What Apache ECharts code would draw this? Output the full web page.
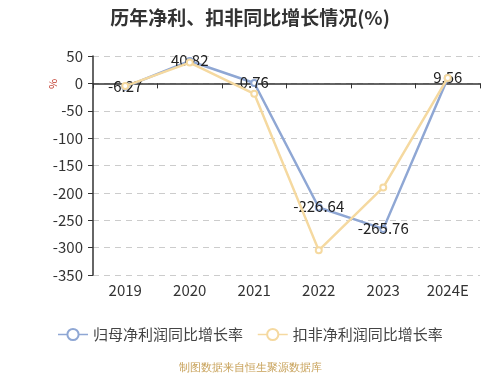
<!DOCTYPE html>
<html><head><meta charset="utf-8">
<script src="https://cdn.jsdelivr.net/npm/echarts@6/dist/echarts.min.js"></script>
<style>html,body{margin:0;padding:0;background:#fff}#c{width:500px;height:375px}</style>
</head><body><div id="c"></div>
<script>
var categories = ['2019','2020','2021','2022','2023','2024E'];
var netProfitGrowth = [-6.27, 40.82, 0.76, -226.64, -265.76, 9.56];
var deductedGrowth = [-5, 38, -19, -305, -190, 10];
var seriesNames = ['归母净利润同比增长率','扣非净利润同比增长率'];
var yTicks = {min: -350, max: 50, interval: 50};

var chart = echarts.init(document.getElementById('c'));
var font = '"Microsoft YaHei","Noto Sans CJK SC",sans-serif';
chart.setOption({
  animation: false,
  textStyle: {fontFamily: font},
  title: {
    text: '历年净利、扣非同比增长情况(%)',
    left: 'center', top: 3,
    textStyle: {fontSize: 19, fontWeight: 'bold', color: '#333', fontFamily: font}
  },
  legend: {
    bottom: 28, left: 'center',
    itemWidth: 30, itemHeight: 14, itemGap: 14,
    lineStyle: {width: 1.5},
    itemStyle: {borderWidth: 1.2},
    textStyle: {fontSize: 15, color: '#444'},
    data: seriesNames
  },
  graphic: [{
    type: 'text', left: 'center', bottom: 2,
    style: {text: '制图数据来自恒生聚源数据库', fontSize: 11, fill: '#c8a25a', font: '11px ' + font}
  }, {
    type: 'text', x: 47, y: 89, rotation: Math.PI / 2,
    style: {text: '%', fill: '#c0392b', font: '11px ' + font}
  }],
  grid: {left: 93, right: 20, top: 56, bottom: 100},
  xAxis: [{
    type: 'category', data: categories, position: 'bottom',
    axisLine: {onZero: true, lineStyle: {color: '#333', width: 1.5}},
    axisTick: {show: true, lineStyle: {color: '#333'}},
    axisLabel: {show: false},
    splitLine: {show: false}
  }, {
    type: 'category', data: categories, position: 'bottom',
    axisLine: {show: false, onZero: false},
    axisTick: {show: false},
    axisLabel: {fontSize: 15, color: '#333', margin: 8},
    splitLine: {show: false}
  }],
  yAxis: {
    type: 'value', min: yTicks.min, max: yTicks.max, interval: yTicks.interval,
    axisLine: {show: true, lineStyle: {color: '#333', width: 1.5}},
    axisTick: {show: true, lineStyle: {color: '#333'}},
    axisLabel: {fontSize: 15, color: '#333', margin: 10},
    splitLine: {lineStyle: {type: [6, 5], color: '#ccc'}}
  },
  series: [{
    name: seriesNames[0], type: 'line', data: netProfitGrowth,
    symbol: 'emptyCircle', symbolSize: 6,
    itemStyle: {color: '#8fa7d4'},
    lineStyle: {width: 2.5, color: '#8fa7d4'},
    label: {show: true, position: 'inside', fontSize: 15, color: '#222', offset: [0, -1]},
    z: 2
  }, {
    name: seriesNames[1], type: 'line', data: deductedGrowth,
    symbol: 'emptyCircle', symbolSize: 6,
    itemStyle: {color: '#f5d9a0'},
    lineStyle: {width: 2.5, color: '#f5d9a0'},
    z: 3
  }]
});
</script>
</body></html>
